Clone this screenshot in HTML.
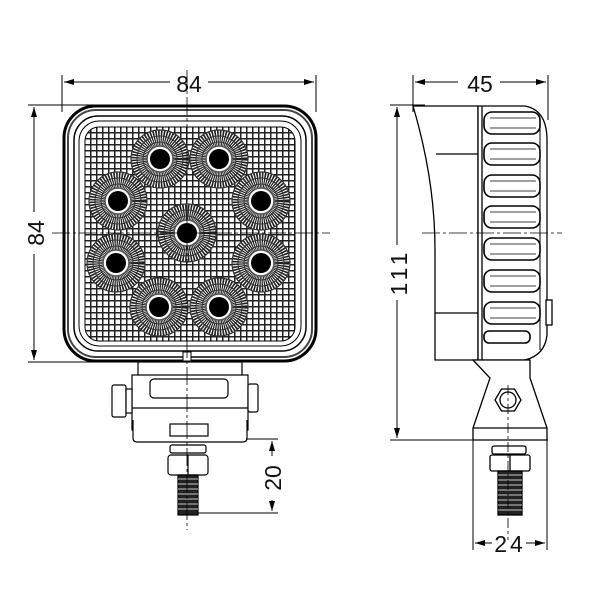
<!DOCTYPE html>
<html><head><style>body{margin:0;background:#fff}svg{display:block}text{font-family:"Liberation Sans",sans-serif;fill:#111}</style></head>
<body>
<svg width="600" height="600" viewBox="0 0 600 600" xmlns="http://www.w3.org/2000/svg">
<defs>
<pattern id="grid" width="6" height="6" patternUnits="userSpaceOnUse">
<rect width="6" height="6" fill="#fff"/><path d="M0 0H6M0 0V6" stroke="#222" stroke-width="3"/>
</pattern>
<g id="led">
<circle r="29" fill="#fff"/>
<circle r="19" fill="none" stroke="#222" stroke-width="20" stroke-dasharray="1.2 0.8"/>
<circle r="29" fill="none" stroke="#333" stroke-width="1.2"/>
<circle r="23" fill="none" stroke="#333" stroke-width="1"/>
<circle r="17" fill="none" stroke="#333" stroke-width="1"/>
<circle r="13" fill="#fff" stroke="#555" stroke-width="1.5"/>
<circle r="10" fill="#000"/>
</g>
<marker id="ar" viewBox="0 0 10 6" refX="10" refY="3" markerWidth="10" markerHeight="6" orient="auto-start-reverse"><path d="M0 0L10 3L0 6z" fill="#000"/></marker>
</defs>
<g fill="none" stroke="#000" stroke-width="1">
<line x1="62" y1="75" x2="62" y2="112"/><line x1="316" y1="75" x2="316" y2="112"/>
<line x1="64" y1="82" x2="170" y2="82" marker-start="url(#ar)"/><line x1="208" y1="82" x2="314" y2="82" marker-end="url(#ar)"/>
<line x1="28" y1="105" x2="150" y2="105"/><line x1="28" y1="362" x2="150" y2="362"/>
<line x1="34" y1="107" x2="34" y2="212" marker-start="url(#ar)"/><line x1="34" y1="254" x2="34" y2="360" marker-end="url(#ar)"/>
</g>
<text x="189" y="92" font-size="23" text-anchor="middle">84</text>
<text transform="translate(44,233) rotate(-90)" font-size="23" text-anchor="middle">84</text>
<rect x="64" y="106" width="252" height="255" rx="32" fill="#fff" stroke="#000" stroke-width="3"/>
<rect x="68" y="110" width="244" height="247" rx="28" fill="none" stroke="#444" stroke-width="2"/>
<rect x="74" y="116" width="232" height="235" rx="24" fill="none" stroke="#000" stroke-width="1.5"/>
<rect x="79" y="121" width="222" height="225" rx="20" fill="none" stroke="#000" stroke-width="1"/>
<rect x="85" y="127" width="210" height="214" rx="14" fill="url(#grid)" stroke="#000"/>
<use href="#led" x="160" y="159"/><use href="#led" x="219" y="159"/>
<use href="#led" x="118" y="201"/><use href="#led" x="261" y="201"/>
<use href="#led" x="187" y="233"/>
<use href="#led" x="116" y="263"/><use href="#led" x="261" y="263"/>
<use href="#led" x="159" y="307"/><use href="#led" x="219" y="307"/>
<rect x="183" y="352" width="8" height="9" fill="#fff" stroke="#000"/>
<g fill="#fff" stroke="#000" stroke-width="1.2">
<rect x="138" y="362" width="104" height="14"/>
<rect x="132" y="375" width="116" height="55"/>
<rect x="150" y="379" width="78" height="19" rx="4"/>
<line x1="132" y1="408" x2="248" y2="408"/>
<path d="M133 420V438Q133 442 137 442H243Q247 442 247 438V420"/>
<rect x="170" y="424" width="38" height="12"/>
<rect x="112" y="385" width="14" height="32" rx="2"/>
<rect x="126" y="389" width="6" height="24"/>
<rect x="248" y="384" width="10" height="28" rx="2"/>
<rect x="170" y="445" width="36" height="8" rx="2"/>
<rect x="168" y="455" width="40" height="20" rx="3"/>
<line x1="188" y1="455" x2="188" y2="475"/>
<rect x="178" y="475" width="20" height="40" fill="#222"/>
</g>
<g stroke="#fff" stroke-width="0.7"><path d="M178 479H198M178 484H198M178 489H198M178 494H198M178 499H198M178 504H198M178 509H198"/></g>
<g fill="none" stroke="#000" stroke-width="1">
<line x1="246" y1="439" x2="278" y2="439"/><line x1="198" y1="513" x2="278" y2="513"/>
<line x1="272" y1="441" x2="272" y2="456" marker-start="url(#ar)"/><line x1="272" y1="500" x2="272" y2="511" marker-end="url(#ar)"/>
<line x1="187" y1="70" x2="187" y2="530" stroke-dasharray="18 3 3 3" stroke-width="0.8"/>
<line x1="52" y1="233" x2="330" y2="233" stroke-dasharray="18 3 3 3" stroke-width="0.8"/>
</g>
<text transform="translate(281,478) rotate(-90)" font-size="23" text-anchor="middle">20</text>
<g fill="none" stroke="#000" stroke-width="1">
<line x1="413" y1="75" x2="413" y2="112"/><line x1="548" y1="75" x2="548" y2="120"/>
<line x1="415" y1="82" x2="458" y2="82" marker-start="url(#ar)"/><line x1="500" y1="82" x2="546" y2="82" marker-end="url(#ar)"/>
<line x1="390" y1="105" x2="425" y2="105"/><line x1="390" y1="440" x2="548" y2="440"/>
<line x1="397" y1="107" x2="397" y2="245" marker-start="url(#ar)"/><line x1="397" y1="300" x2="397" y2="438" marker-end="url(#ar)"/>
<line x1="473" y1="440" x2="473" y2="550"/><line x1="547" y1="440" x2="547" y2="550"/>
<line x1="475" y1="543" x2="492" y2="543" marker-start="url(#ar)"/><line x1="526" y1="543" x2="545" y2="543" marker-end="url(#ar)"/>
</g>
<text x="480" y="92" font-size="23" text-anchor="middle">45</text>
<text transform="translate(407,272) rotate(-90)" font-size="23" text-anchor="middle" letter-spacing="4">111</text>
<text x="510" y="552" font-size="23" text-anchor="middle" letter-spacing="3">24</text>
<g fill="#fff" stroke="#000" stroke-width="1.3">
<path d="M413 106H478V360H435V250Q435 180 413 106Z"/>
<line x1="436" y1="154" x2="482" y2="154"/><line x1="435" y1="313" x2="482" y2="313"/>
<path d="M478 106H525Q547 110 547 140V335Q545 355 525 360H478Z"/>
<line x1="482" y1="106" x2="482" y2="360"/>
<path d="M540 125V350" stroke-width="1"/>
<rect x="546" y="300" width="6" height="25"/>
</g>
<g fill="#fff" stroke="#000" stroke-width="1.6">
<rect x="484" y="112" width="56" height="22" rx="8"/>
<rect x="484" y="143" width="56" height="22" rx="8"/>
<rect x="484" y="175" width="56" height="22" rx="8"/>
<rect x="484" y="206" width="56" height="22" rx="8"/>
<rect x="484" y="238" width="56" height="22" rx="8"/>
<rect x="484" y="270" width="56" height="22" rx="8"/>
<rect x="484" y="302" width="56" height="22" rx="8"/>
<rect x="484" y="331" width="46" height="12" rx="5"/>
</g>
<g stroke="#000" stroke-width="0.7"><path d="M490 118H536M490 128H536M490 149H536M490 159H536M490 181H536M490 191H536M490 212H536M490 222H536M490 244H536M490 254H536M490 276H536M490 286H536M490 308H536M490 318H536"/></g>
<g fill="#fff" stroke="#000" stroke-width="1.3">
<path d="M473 360L490 378L473 428V440H547V428L530 378V360Z"/>
<line x1="473" y1="428" x2="547" y2="428"/>
<polygon points="495,400 501.5,389 514.5,389 521,400 514.5,411 501.5,411"/>
<circle cx="508" cy="400" r="8"/>
<rect x="492" y="446" width="34" height="8" rx="2"/>
<rect x="490" y="455" width="40" height="16" rx="2"/>
<line x1="510" y1="455" x2="510" y2="471"/>
<rect x="498" y="471" width="24" height="44" fill="#222"/>
</g>
<g stroke="#fff" stroke-width="0.7"><path d="M498 475H522M498 480H522M498 485H522M498 490H522M498 495H522M498 500H522M498 505H522M498 510H522"/></g>
<g fill="none" stroke="#000" stroke-width="0.8">
<line x1="422" y1="233" x2="562" y2="233" stroke-dasharray="18 3 3 3"/>
<line x1="508" y1="385" x2="508" y2="540" stroke-dasharray="10 3 3 3"/>
</g>
</svg>
</body></html>
